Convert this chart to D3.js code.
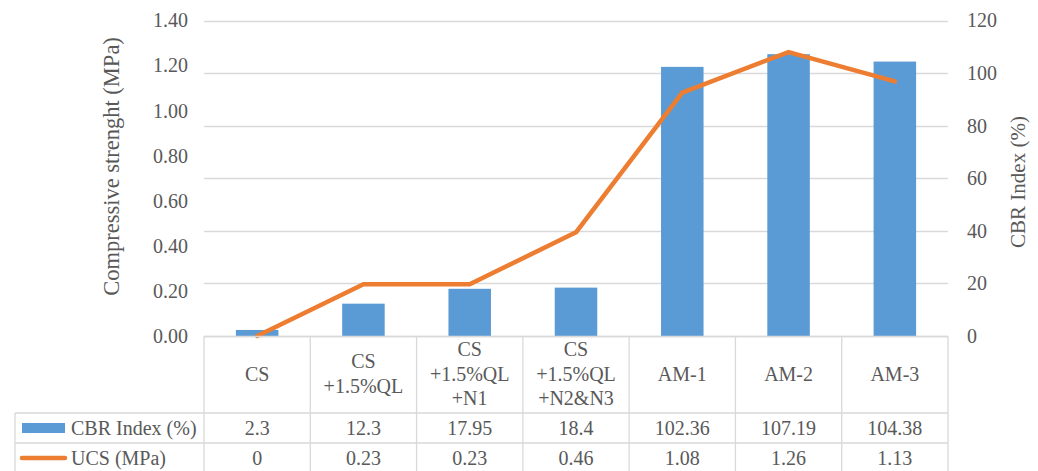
<!DOCTYPE html>
<html>
<head>
<meta charset="utf-8">
<script src="https://cdn.jsdelivr.net/npm/d3@7"></script>
<style>
  html, body { margin: 0; padding: 0; background: #fff; }
  svg { display: block; }
</style>
</head>
<body>
<svg id="chart" width="1038" height="471"></svg>
<script>
// Sample labels (multi-line labels split on spaces)
const categories = ["CS", "CS +1.5%QL", "CS +1.5%QL +N1", "CS +1.5%QL +N2&N3", "AM-1", "AM-2", "AM-3"];
// CBR Index (%) – bars, right axis
const cbrValues = [2.3, 12.3, 17.95, 18.4, 102.36, 107.19, 104.38];
// UCS (MPa) – line, left axis
const ucsValues = [0, 0.23, 0.23, 0.46, 1.08, 1.26, 1.13];
const leftTicks = [0, 0.2, 0.4, 0.6, 0.8, 1.0, 1.2, 1.4];
const rightTicks = [0, 20, 40, 60, 80, 100, 120];
const seriesNames = ["CBR Index (%)", "UCS (MPa)"];

const W = 1038, H = 471;
const plot = { left: 204, right: 948, top: 20.5, bottom: 336 };
const tableLeft = 15;
const rowHeader = 413, rowCbr = 443, tableBottom = 475;
const grid = "#d9d9d9", barColor = "#5b9bd5", lineColor = "#ed7d31";
const FONT = "Liberation Serif";
const textColor = "#595959";
const fontSize = 20;

const svg = d3.select("#chart")
  .attr("font-family", FONT).attr("font-size", fontSize);
svg.append("rect").attr("width", W).attr("height", H).attr("fill", "#fff");

const styleText = (sel, size = fontSize) => sel.attr("font-family", FONT).attr("font-size", size).attr("fill", textColor);

const xCell = d3.scaleBand().domain(categories).range([plot.left, plot.right]).padding(0);
const xBar = d3.scaleBand().domain(categories).range([plot.left, plot.right])
  .paddingInner(0.6).paddingOuter(0.3);
const yL = d3.scaleLinear().domain([0, 1.4]).range([plot.bottom, plot.top]);
const yR = d3.scaleLinear().domain([0, 120]).range([plot.bottom, plot.top]);

// Horizontal gridlines follow the right (CBR) axis
svg.append("g").selectAll("line").data(rightTicks).join("line")
  .attr("x1", plot.left).attr("x2", plot.right)
  .attr("y1", d => Math.round(yR(d)) + 0.5).attr("y2", d => Math.round(yR(d)) + 0.5)
  .attr("stroke", grid).attr("stroke-width", 1.3);

// Left axis labels
const leftAxis = d3.axisLeft(yL).tickValues(leftTicks).tickFormat(d3.format(".2f")).tickSize(0).tickPadding(16);
const gL = svg.append("g").attr("transform", `translate(${plot.left},0)`).call(leftAxis);
gL.select(".domain").remove();
gL.attr("font-family", FONT).attr("font-size", fontSize);
gL.selectAll("text").call(styleText);

// Right axis labels
const rightAxis = d3.axisRight(yR).tickValues(rightTicks).tickFormat(d3.format("d")).tickSize(0).tickPadding(19);
const gR = svg.append("g").attr("transform", `translate(${plot.right},0)`).call(rightAxis);
gR.select(".domain").remove();
gR.attr("font-family", FONT).attr("font-size", fontSize);
gR.selectAll("text").call(styleText);

// Axis titles
svg.append("text")
  .attr("transform", `translate(111,166.5) rotate(-90)`)
  .attr("text-anchor", "middle").attr("dominant-baseline", "central")
  .call(styleText, 22.5)
  .text("Compressive strenght (MPa)");
svg.append("text")
  .attr("transform", `translate(1018,182) rotate(-90)`)
  .attr("text-anchor", "middle").attr("dominant-baseline", "central")
  .call(styleText, 21)
  .text("CBR Index (%)");

// Bars (CBR, right axis)
svg.append("g").selectAll("rect").data(cbrValues).join("rect")
  .attr("x", (d, i) => xBar(categories[i]))
  .attr("width", xBar.bandwidth())
  .attr("y", d => yR(d))
  .attr("height", d => yR(0) - yR(d))
  .attr("fill", barColor);

// Line (UCS, left axis)
const line = d3.line()
  .x((d, i) => xCell(categories[i]) + xCell.bandwidth() / 2)
  .y(d => yL(d));
svg.append("path").datum(ucsValues)
  .attr("d", line)
  .attr("fill", "none").attr("stroke", lineColor)
  .attr("stroke-width", 4.5).attr("stroke-linejoin", "round").attr("stroke-linecap", "round");

// Data table
const tbl = svg.append("g");
const hl = (x1, x2, y) => tbl.append("line").attr("x1", x1).attr("x2", x2).attr("y1", y).attr("y2", y)
  .attr("stroke", grid).attr("stroke-width", 1.3);
const vl = (x, y1, y2) => tbl.append("line").attr("x1", x).attr("x2", x).attr("y1", y1).attr("y2", y2)
  .attr("stroke", grid).attr("stroke-width", 1.3);

hl(plot.left, plot.right, plot.bottom + 0.5);
hl(tableLeft, plot.right, rowHeader);
hl(tableLeft, plot.right, rowCbr);
vl(tableLeft, rowHeader, tableBottom);
categories.forEach(c => vl(xCell(c), plot.bottom, tableBottom));
vl(plot.right, plot.bottom, tableBottom);

// Category header cells
const lineGap = 24.5;
categories.forEach(c => {
  const parts = c.split(" ");
  const cx = xCell(c) + xCell.bandwidth() / 2;
  const cy = (plot.bottom + rowHeader) / 2 - 1;
  parts.forEach((p, k) => {
    tbl.append("text")
      .attr("x", cx).attr("y", cy + (k - (parts.length - 1) / 2) * lineGap)
      .attr("text-anchor", "middle").attr("dominant-baseline", "central")
      .call(styleText).text(p);
  });
});

// Value rows
const rows = [
  { name: seriesNames[0], values: cbrValues, y: (rowHeader + rowCbr) / 2 },
  { name: seriesNames[1], values: ucsValues, y: (rowCbr + 471) / 2 + 1 }
];
rows.forEach(r => {
  r.values.forEach((v, i) => {
    tbl.append("text")
      .attr("x", xCell(categories[i]) + xCell.bandwidth() / 2).attr("y", r.y)
      .attr("text-anchor", "middle").attr("dominant-baseline", "central")
      .call(styleText).text(String(v));
  });
  tbl.append("text")
    .attr("x", 71).attr("y", r.y)
    .attr("dominant-baseline", "central")
    .call(styleText).text(r.name);
});

// Legend keys
tbl.append("rect").attr("x", 22).attr("y", rows[0].y - 5).attr("width", 43).attr("height", 10).attr("fill", barColor);
tbl.append("line").attr("x1", 22).attr("x2", 65).attr("y1", rows[1].y).attr("y2", rows[1].y)
  .attr("stroke", lineColor).attr("stroke-width", 4.5).attr("stroke-linecap", "round");
</script>
</body>
</html>
